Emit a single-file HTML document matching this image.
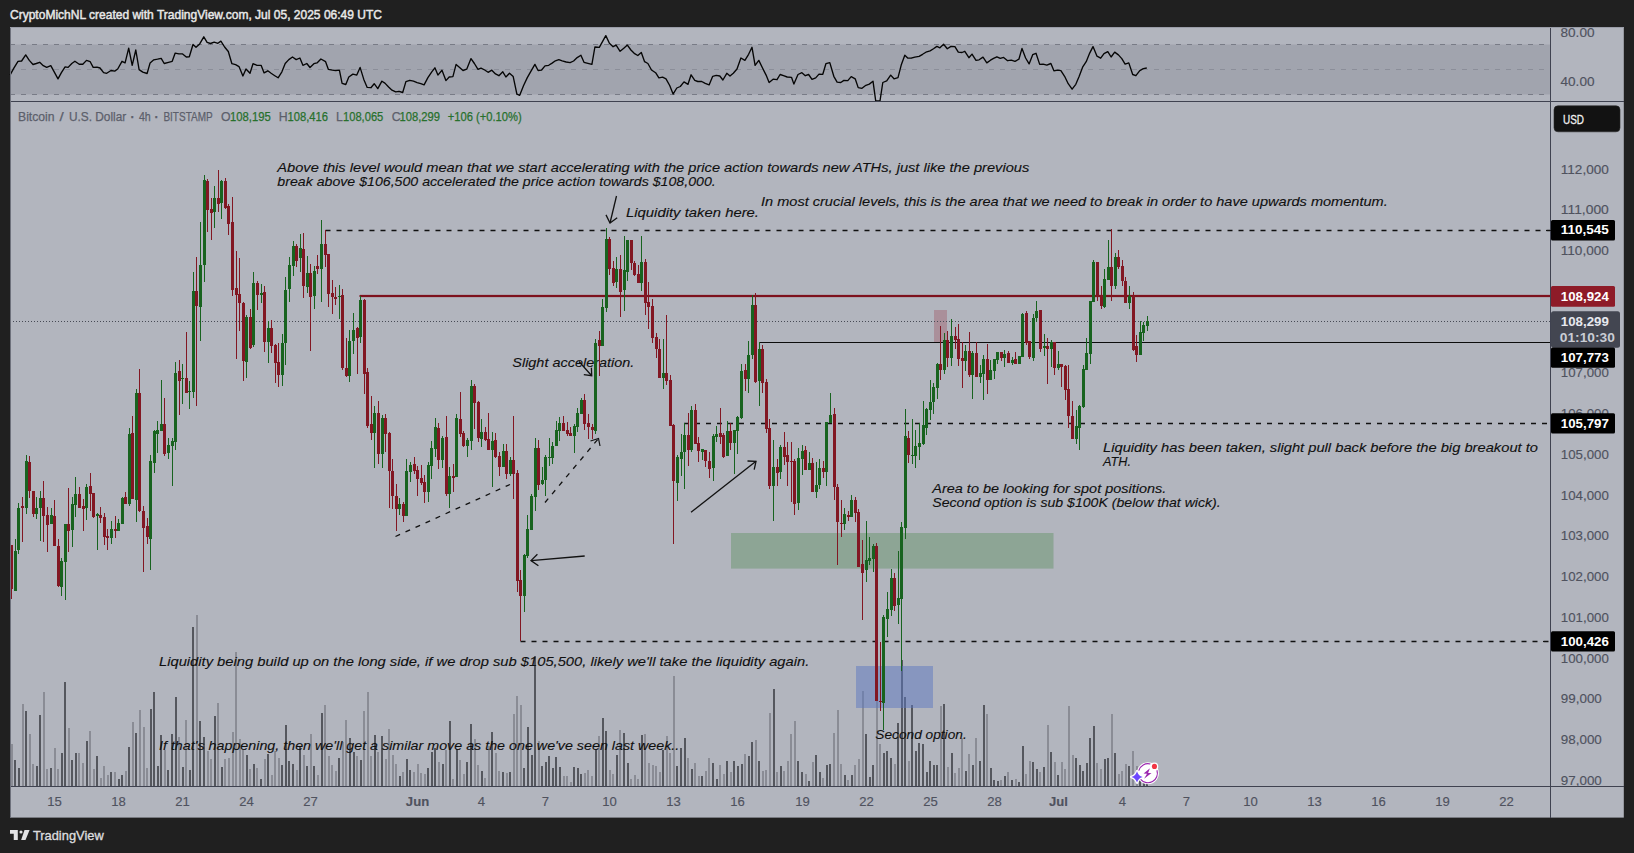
<!DOCTYPE html>
<html><head><meta charset="utf-8"><title>BTCUSD chart</title>
<style>
html,body{margin:0;padding:0;background:#202020;}
body{width:1634px;height:853px;overflow:hidden;position:relative;font-family:"Liberation Sans",sans-serif;}
svg{position:absolute;left:0;top:0;display:block}
text{font-family:"Liberation Sans",sans-serif;}
.ax{font-size:13.1px;fill:#4f525e;stroke:#4f525e;stroke-width:0.15px;}
.an{font-size:13.5px;font-style:italic;fill:#101010;stroke:#101010;stroke-width:0.12px;}
.lb{font-size:13.4px;font-weight:bold;fill:#fff;}
</style></head><body>
<svg width="1634" height="853" viewBox="0 0 1634 853">
<rect x="0" y="0" width="1634" height="853" fill="#202020"/>
<rect x="10" y="27" width="1613.8" height="790.6" fill="#b2b5be"/>
<text x="10" y="18.9" font-size="12.4" fill="#e8e8e8" stroke="#e8e8e8" stroke-width="0.45" textLength="372" lengthAdjust="spacingAndGlyphs">CryptoMichNL created with TradingView.com, Jul 05, 2025 06:49 UTC</text>
<rect x="11" y="44.5" width="1539" height="50" fill="#a1a4ae"/>
<line x1="10" y1="44.5" x2="1550" y2="44.5" stroke="#787b86" stroke-width="1" stroke-dasharray="5 6"/>
<line x1="10" y1="69.5" x2="1550" y2="69.5" stroke="#8b8e99" stroke-width="1" stroke-dasharray="5 6"/>
<line x1="10" y1="94.5" x2="1550" y2="94.5" stroke="#787b86" stroke-width="1" stroke-dasharray="5 6"/>
<polyline points="10.0,75.1 13.7,68.4 18.0,61.3 21.6,61.0 25.7,54.9 29.3,60.4 33.0,64.5 36.3,63.5 39.7,62.3 43.3,65.7 46.7,67.4 50.8,65.7 58.0,78.8 61.4,72.7 65.1,66.9 68.1,67.4 71.8,63.5 74.9,61.3 79.2,64.2 82.8,64.2 86.5,60.4 90.2,61.7 93.2,67.4 96.9,67.2 100.0,68.0 103.6,72.7 106.7,73.3 111.0,70.5 114.7,71.1 117.7,69.0 122.0,61.3 125.1,62.9 128.7,48.2 132.2,65.3 135.8,50.0 139.1,69.6 142.8,72.1 147.1,73.5 150.1,62.9 153.8,59.8 157.5,59.2 161.2,58.4 164.2,63.5 168.5,62.3 172.2,61.3 175.2,53.1 178.9,53.9 182.6,53.9 186.3,57.0 189.3,56.8 193.0,44.5 196.0,47.3 199.7,43.9 203.8,36.8 207.1,42.4 210.5,43.5 214.2,42.1 217.9,43.3 220.9,41.1 224.6,47.0 228.3,51.5 231.9,63.7 235.6,64.7 239.0,66.6 242.9,76.0 246.0,69.0 250.0,73.3 253.0,63.7 257.0,65.3 261.1,65.3 264.1,72.9 267.8,70.8 271.1,73.3 274.8,75.7 278.1,77.8 281.9,71.8 285.2,63.5 288.8,59.6 292.5,57.0 296.2,59.6 299.9,58.0 302.9,65.3 306.8,63.5 310.0,67.5 313.9,63.7 317.0,62.9 320.9,59.0 325.6,61.7 328.4,69.4 332.3,70.2 335.7,70.5 339.4,70.2 342.1,83.3 345.8,84.5 348.8,77.0 352.9,74.1 356.8,75.1 360.1,67.4 363.8,79.4 367.2,87.4 370.9,87.7 374.2,83.7 377.8,88.6 381.9,81.2 384.9,83.1 388.6,87.0 392.0,90.2 395.7,91.9 399.0,91.3 402.7,92.5 405.9,81.6 409.8,80.3 413.5,81.2 417.1,82.7 420.8,83.7 424.1,84.9 427.9,77.6 431.6,72.1 434.9,67.8 437.9,75.1 442.0,70.2 445.9,80.6 449.2,77.0 452.9,76.6 456.1,64.4 459.6,67.4 463.0,70.5 466.7,69.2 471.0,58.6 474.4,63.5 478.0,69.4 481.0,68.1 484.7,70.0 488.1,72.3 491.8,70.2 495.5,73.9 498.9,75.7 502.8,71.8 505.9,77.0 509.5,73.3 513.2,76.6 516.9,94.1 519.7,95.3 523.6,85.5 527.3,77.6 531.0,71.1 534.9,64.4 538.1,70.5 541.4,70.2 545.0,65.9 548.7,65.3 552.1,63.1 555.4,60.8 558.8,59.6 562.2,60.8 566.2,62.0 570.1,62.6 573.6,61.0 577.2,57.6 580.9,55.2 584.0,62.3 587.9,63.3 591.9,64.4 594.9,47.0 599.3,47.3 605.8,35.6 609.4,43.3 613.1,46.7 616.1,45.1 620.1,51.3 623.8,48.2 627.4,45.1 630.9,50.0 634.2,53.3 637.8,55.5 641.3,52.5 644.6,61.7 647.9,63.5 651.5,70.0 655.6,72.7 658.9,77.9 662.6,77.2 666.0,78.8 669.7,85.5 673.1,94.1 676.8,88.0 680.3,86.5 684.0,81.9 688.0,84.3 691.1,74.8 694.8,80.4 697.8,81.5 701.7,81.5 705.2,83.4 709.1,84.9 712.7,76.3 716.2,75.4 719.8,76.0 722.9,80.0 726.8,73.3 730.0,76.0 733.3,73.3 737.0,69.0 740.9,58.0 744.9,60.4 748.6,54.3 752.0,47.3 755.1,65.3 758.8,60.4 762.4,67.8 766.1,75.1 769.1,82.5 773.1,79.2 777.0,79.7 780.1,74.5 783.5,75.7 787.2,77.0 791.5,77.3 793.9,84.1 798.0,74.5 801.9,72.7 805.3,75.7 808.6,74.5 812.0,79.4 815.7,77.9 819.0,74.1 822.8,74.3 825.9,63.7 829.8,62.6 833.8,76.3 837.1,82.1 840.8,82.5 843.9,80.4 847.8,80.6 851.2,76.6 855.2,78.8 858.2,87.6 862.0,88.3 865.9,85.3 869.3,84.1 873.0,81.2 875.7,100.8 880.0,100.8 882.8,82.5 886.7,80.9 890.7,75.1 894.0,78.8 898.0,77.6 901.4,64.4 904.8,55.2 907.7,58.0 911.2,58.2 914.8,57.1 919.1,56.4 922.6,54.3 925.9,52.2 930.1,50.9 933.5,48.8 936.9,46.4 939.9,47.8 943.6,44.3 947.3,48.8 951.0,46.4 954.9,46.6 958.3,52.2 962.0,52.5 964.8,51.3 968.9,57.7 972.0,54.1 976.0,60.4 979.1,59.8 983.0,57.1 985.0,60.1 986.8,62.9 990.5,60.2 993.6,58.4 996.9,56.8 1000.3,58.4 1003.6,57.4 1007.6,60.7 1011.3,60.1 1015.0,61.3 1018.9,59.2 1022.0,48.4 1025.6,58.0 1029.1,63.9 1032.7,54.7 1036.0,53.3 1039.7,64.4 1043.1,64.1 1046.8,65.1 1050.9,63.5 1053.9,70.8 1057.8,70.2 1060.9,70.6 1064.6,76.3 1068.2,83.7 1072.1,89.2 1075.8,84.3 1079.2,76.3 1082.6,67.2 1086.2,61.7 1089.7,53.1 1093.0,46.6 1097.0,56.2 1100.7,58.2 1104.0,53.7 1107.8,51.6 1111.1,57.0 1114.7,52.1 1118.4,54.9 1121.8,58.6 1125.1,64.1 1128.8,62.9 1132.7,74.5 1135.9,75.7 1139.8,70.6 1143.3,68.6 1146.8,68.0" fill="none" stroke="#050505" stroke-width="1.35" stroke-linejoin="round"/>
<rect x="11" y="744" width="2" height="42" fill="#8a8c95"/>
<rect x="14" y="760" width="2" height="26" fill="#55575e"/>
<rect x="18" y="768" width="2" height="18" fill="#55575e"/>
<rect x="22" y="704" width="2" height="82" fill="#8a8c95"/>
<rect x="25" y="711" width="2" height="75" fill="#55575e"/>
<rect x="29" y="734" width="2" height="52" fill="#8a8c95"/>
<rect x="32" y="764" width="2" height="22" fill="#8a8c95"/>
<rect x="36" y="766" width="2" height="20" fill="#55575e"/>
<rect x="39" y="715" width="2" height="71" fill="#55575e"/>
<rect x="43" y="692" width="2" height="94" fill="#8a8c95"/>
<rect x="46" y="769" width="2" height="17" fill="#8a8c95"/>
<rect x="50" y="768" width="2" height="18" fill="#55575e"/>
<rect x="54" y="748" width="2" height="38" fill="#8a8c95"/>
<rect x="57" y="769" width="2" height="17" fill="#8a8c95"/>
<rect x="61" y="753" width="2" height="33" fill="#55575e"/>
<rect x="64" y="682" width="2" height="104" fill="#55575e"/>
<rect x="68" y="728" width="2" height="58" fill="#8a8c95"/>
<rect x="71" y="760" width="2" height="26" fill="#55575e"/>
<rect x="75" y="753" width="2" height="33" fill="#55575e"/>
<rect x="78" y="753" width="2" height="33" fill="#8a8c95"/>
<rect x="82" y="763" width="2" height="23" fill="#8a8c95"/>
<rect x="86" y="741" width="2" height="45" fill="#55575e"/>
<rect x="89" y="731" width="2" height="55" fill="#8a8c95"/>
<rect x="93" y="769" width="2" height="17" fill="#8a8c95"/>
<rect x="96" y="756" width="2" height="30" fill="#55575e"/>
<rect x="100" y="778" width="2" height="8" fill="#8a8c95"/>
<rect x="103" y="766" width="2" height="20" fill="#8a8c95"/>
<rect x="107" y="775" width="2" height="11" fill="#8a8c95"/>
<rect x="110" y="772" width="2" height="14" fill="#55575e"/>
<rect x="114" y="772" width="2" height="14" fill="#8a8c95"/>
<rect x="118" y="779" width="2" height="7" fill="#55575e"/>
<rect x="121" y="775" width="2" height="11" fill="#55575e"/>
<rect x="125" y="771" width="2" height="15" fill="#8a8c95"/>
<rect x="128" y="747" width="2" height="39" fill="#55575e"/>
<rect x="132" y="722" width="2" height="64" fill="#8a8c95"/>
<rect x="135" y="733" width="2" height="53" fill="#55575e"/>
<rect x="139" y="710" width="2" height="76" fill="#8a8c95"/>
<rect x="143" y="727" width="2" height="59" fill="#8a8c95"/>
<rect x="146" y="768" width="2" height="18" fill="#8a8c95"/>
<rect x="150" y="709" width="2" height="77" fill="#55575e"/>
<rect x="153" y="692" width="2" height="94" fill="#55575e"/>
<rect x="157" y="766" width="2" height="20" fill="#55575e"/>
<rect x="160" y="735" width="2" height="51" fill="#55575e"/>
<rect x="164" y="750" width="2" height="36" fill="#8a8c95"/>
<rect x="167" y="770" width="2" height="16" fill="#55575e"/>
<rect x="171" y="734" width="2" height="52" fill="#55575e"/>
<rect x="175" y="697" width="2" height="89" fill="#55575e"/>
<rect x="178" y="737" width="2" height="49" fill="#8a8c95"/>
<rect x="182" y="767" width="2" height="19" fill="#55575e"/>
<rect x="185" y="720" width="2" height="66" fill="#8a8c95"/>
<rect x="189" y="770" width="2" height="16" fill="#55575e"/>
<rect x="192" y="627" width="2" height="159" fill="#55575e"/>
<rect x="196" y="615" width="2" height="171" fill="#8a8c95"/>
<rect x="199" y="721" width="2" height="65" fill="#55575e"/>
<rect x="203" y="737" width="2" height="49" fill="#55575e"/>
<rect x="207" y="751" width="2" height="35" fill="#8a8c95"/>
<rect x="210" y="759" width="2" height="27" fill="#8a8c95"/>
<rect x="214" y="716" width="2" height="70" fill="#55575e"/>
<rect x="217" y="703" width="2" height="83" fill="#8a8c95"/>
<rect x="221" y="767" width="2" height="19" fill="#55575e"/>
<rect x="224" y="759" width="2" height="27" fill="#8a8c95"/>
<rect x="228" y="758" width="2" height="28" fill="#8a8c95"/>
<rect x="232" y="732" width="2" height="54" fill="#8a8c95"/>
<rect x="235" y="652" width="2" height="134" fill="#8a8c95"/>
<rect x="239" y="739" width="2" height="47" fill="#8a8c95"/>
<rect x="242" y="750" width="2" height="36" fill="#8a8c95"/>
<rect x="246" y="755" width="2" height="31" fill="#55575e"/>
<rect x="249" y="769" width="2" height="17" fill="#8a8c95"/>
<rect x="253" y="764" width="2" height="22" fill="#55575e"/>
<rect x="256" y="768" width="2" height="18" fill="#8a8c95"/>
<rect x="260" y="779" width="2" height="7" fill="#55575e"/>
<rect x="264" y="759" width="2" height="27" fill="#8a8c95"/>
<rect x="267" y="754" width="2" height="32" fill="#55575e"/>
<rect x="271" y="775" width="2" height="11" fill="#8a8c95"/>
<rect x="274" y="751" width="2" height="35" fill="#8a8c95"/>
<rect x="278" y="758" width="2" height="28" fill="#8a8c95"/>
<rect x="281" y="765" width="2" height="21" fill="#55575e"/>
<rect x="285" y="725" width="2" height="61" fill="#55575e"/>
<rect x="288" y="761" width="2" height="25" fill="#55575e"/>
<rect x="292" y="764" width="2" height="22" fill="#55575e"/>
<rect x="296" y="770" width="2" height="16" fill="#8a8c95"/>
<rect x="299" y="747" width="2" height="39" fill="#55575e"/>
<rect x="303" y="755" width="2" height="31" fill="#8a8c95"/>
<rect x="306" y="766" width="2" height="20" fill="#55575e"/>
<rect x="310" y="734" width="2" height="52" fill="#8a8c95"/>
<rect x="313" y="766" width="2" height="20" fill="#55575e"/>
<rect x="317" y="775" width="2" height="11" fill="#8a8c95"/>
<rect x="321" y="713" width="2" height="73" fill="#55575e"/>
<rect x="324" y="705" width="2" height="81" fill="#8a8c95"/>
<rect x="328" y="756" width="2" height="30" fill="#8a8c95"/>
<rect x="331" y="765" width="2" height="21" fill="#8a8c95"/>
<rect x="335" y="771" width="2" height="15" fill="#8a8c95"/>
<rect x="338" y="758" width="2" height="28" fill="#55575e"/>
<rect x="342" y="742" width="2" height="44" fill="#8a8c95"/>
<rect x="345" y="720" width="2" height="66" fill="#8a8c95"/>
<rect x="349" y="738" width="2" height="48" fill="#55575e"/>
<rect x="353" y="752" width="2" height="34" fill="#55575e"/>
<rect x="356" y="756" width="2" height="30" fill="#8a8c95"/>
<rect x="360" y="760" width="2" height="26" fill="#55575e"/>
<rect x="363" y="711" width="2" height="75" fill="#8a8c95"/>
<rect x="367" y="692" width="2" height="94" fill="#8a8c95"/>
<rect x="370" y="756" width="2" height="30" fill="#8a8c95"/>
<rect x="374" y="735" width="2" height="51" fill="#55575e"/>
<rect x="377" y="752" width="2" height="34" fill="#8a8c95"/>
<rect x="381" y="736" width="2" height="50" fill="#55575e"/>
<rect x="385" y="759" width="2" height="27" fill="#8a8c95"/>
<rect x="388" y="729" width="2" height="57" fill="#8a8c95"/>
<rect x="392" y="755" width="2" height="31" fill="#8a8c95"/>
<rect x="395" y="764" width="2" height="22" fill="#8a8c95"/>
<rect x="399" y="776" width="2" height="10" fill="#55575e"/>
<rect x="402" y="772" width="2" height="14" fill="#8a8c95"/>
<rect x="406" y="759" width="2" height="27" fill="#55575e"/>
<rect x="409" y="770" width="2" height="16" fill="#55575e"/>
<rect x="413" y="772" width="2" height="14" fill="#8a8c95"/>
<rect x="417" y="764" width="2" height="22" fill="#8a8c95"/>
<rect x="420" y="773" width="2" height="13" fill="#8a8c95"/>
<rect x="424" y="774" width="2" height="12" fill="#8a8c95"/>
<rect x="427" y="768" width="2" height="18" fill="#55575e"/>
<rect x="431" y="752" width="2" height="34" fill="#55575e"/>
<rect x="434" y="748" width="2" height="38" fill="#55575e"/>
<rect x="438" y="762" width="2" height="24" fill="#8a8c95"/>
<rect x="442" y="764" width="2" height="22" fill="#55575e"/>
<rect x="445" y="750" width="2" height="36" fill="#8a8c95"/>
<rect x="449" y="721" width="2" height="65" fill="#55575e"/>
<rect x="452" y="779" width="2" height="7" fill="#8a8c95"/>
<rect x="456" y="749" width="2" height="37" fill="#55575e"/>
<rect x="459" y="760" width="2" height="26" fill="#8a8c95"/>
<rect x="463" y="774" width="2" height="12" fill="#8a8c95"/>
<rect x="466" y="762" width="2" height="24" fill="#55575e"/>
<rect x="470" y="724" width="2" height="62" fill="#55575e"/>
<rect x="474" y="739" width="2" height="47" fill="#8a8c95"/>
<rect x="477" y="765" width="2" height="21" fill="#8a8c95"/>
<rect x="481" y="771" width="2" height="15" fill="#55575e"/>
<rect x="484" y="778" width="2" height="8" fill="#8a8c95"/>
<rect x="488" y="746" width="2" height="40" fill="#8a8c95"/>
<rect x="491" y="732" width="2" height="54" fill="#55575e"/>
<rect x="495" y="753" width="2" height="33" fill="#8a8c95"/>
<rect x="498" y="771" width="2" height="15" fill="#8a8c95"/>
<rect x="502" y="772" width="2" height="14" fill="#55575e"/>
<rect x="506" y="773" width="2" height="13" fill="#8a8c95"/>
<rect x="509" y="772" width="2" height="14" fill="#55575e"/>
<rect x="513" y="714" width="2" height="72" fill="#8a8c95"/>
<rect x="516" y="696" width="2" height="90" fill="#8a8c95"/>
<rect x="520" y="705" width="2" height="81" fill="#8a8c95"/>
<rect x="523" y="768" width="2" height="18" fill="#55575e"/>
<rect x="527" y="727" width="2" height="59" fill="#55575e"/>
<rect x="531" y="755" width="2" height="31" fill="#55575e"/>
<rect x="534" y="656" width="2" height="130" fill="#55575e"/>
<rect x="538" y="741" width="2" height="45" fill="#8a8c95"/>
<rect x="541" y="766" width="2" height="20" fill="#55575e"/>
<rect x="545" y="762" width="2" height="24" fill="#55575e"/>
<rect x="548" y="756" width="2" height="30" fill="#55575e"/>
<rect x="552" y="768" width="2" height="18" fill="#55575e"/>
<rect x="555" y="757" width="2" height="29" fill="#55575e"/>
<rect x="559" y="767" width="2" height="19" fill="#55575e"/>
<rect x="563" y="776" width="2" height="10" fill="#8a8c95"/>
<rect x="566" y="776" width="2" height="10" fill="#8a8c95"/>
<rect x="570" y="782" width="2" height="4" fill="#8a8c95"/>
<rect x="573" y="767" width="2" height="19" fill="#55575e"/>
<rect x="577" y="768" width="2" height="18" fill="#55575e"/>
<rect x="580" y="774" width="2" height="12" fill="#55575e"/>
<rect x="584" y="773" width="2" height="13" fill="#8a8c95"/>
<rect x="587" y="770" width="2" height="16" fill="#8a8c95"/>
<rect x="591" y="776" width="2" height="10" fill="#8a8c95"/>
<rect x="595" y="749" width="2" height="37" fill="#55575e"/>
<rect x="598" y="736" width="2" height="50" fill="#8a8c95"/>
<rect x="602" y="718" width="2" height="68" fill="#55575e"/>
<rect x="605" y="731" width="2" height="55" fill="#55575e"/>
<rect x="609" y="770" width="2" height="16" fill="#8a8c95"/>
<rect x="612" y="774" width="2" height="12" fill="#8a8c95"/>
<rect x="616" y="755" width="2" height="31" fill="#55575e"/>
<rect x="619" y="730" width="2" height="56" fill="#8a8c95"/>
<rect x="623" y="733" width="2" height="53" fill="#55575e"/>
<rect x="627" y="763" width="2" height="23" fill="#55575e"/>
<rect x="630" y="779" width="2" height="7" fill="#8a8c95"/>
<rect x="634" y="775" width="2" height="11" fill="#8a8c95"/>
<rect x="637" y="779" width="2" height="7" fill="#8a8c95"/>
<rect x="641" y="735" width="2" height="51" fill="#55575e"/>
<rect x="644" y="734" width="2" height="52" fill="#8a8c95"/>
<rect x="648" y="763" width="2" height="23" fill="#8a8c95"/>
<rect x="652" y="765" width="2" height="21" fill="#8a8c95"/>
<rect x="655" y="766" width="2" height="20" fill="#8a8c95"/>
<rect x="659" y="772" width="2" height="14" fill="#8a8c95"/>
<rect x="662" y="750" width="2" height="36" fill="#55575e"/>
<rect x="666" y="736" width="2" height="50" fill="#8a8c95"/>
<rect x="669" y="753" width="2" height="33" fill="#8a8c95"/>
<rect x="673" y="676" width="2" height="110" fill="#8a8c95"/>
<rect x="676" y="766" width="2" height="20" fill="#55575e"/>
<rect x="680" y="748" width="2" height="38" fill="#55575e"/>
<rect x="684" y="738" width="2" height="48" fill="#55575e"/>
<rect x="687" y="758" width="2" height="28" fill="#8a8c95"/>
<rect x="691" y="769" width="2" height="17" fill="#55575e"/>
<rect x="694" y="763" width="2" height="23" fill="#8a8c95"/>
<rect x="698" y="776" width="2" height="10" fill="#8a8c95"/>
<rect x="701" y="776" width="2" height="10" fill="#55575e"/>
<rect x="705" y="771" width="2" height="15" fill="#8a8c95"/>
<rect x="708" y="758" width="2" height="28" fill="#8a8c95"/>
<rect x="712" y="763" width="2" height="23" fill="#55575e"/>
<rect x="716" y="779" width="2" height="7" fill="#55575e"/>
<rect x="719" y="765" width="2" height="21" fill="#8a8c95"/>
<rect x="723" y="774" width="2" height="12" fill="#8a8c95"/>
<rect x="726" y="761" width="2" height="25" fill="#55575e"/>
<rect x="730" y="772" width="2" height="14" fill="#8a8c95"/>
<rect x="733" y="761" width="2" height="25" fill="#55575e"/>
<rect x="737" y="766" width="2" height="20" fill="#55575e"/>
<rect x="741" y="764" width="2" height="22" fill="#55575e"/>
<rect x="744" y="754" width="2" height="32" fill="#8a8c95"/>
<rect x="748" y="756" width="2" height="30" fill="#55575e"/>
<rect x="751" y="742" width="2" height="44" fill="#55575e"/>
<rect x="755" y="740" width="2" height="46" fill="#8a8c95"/>
<rect x="758" y="761" width="2" height="25" fill="#55575e"/>
<rect x="762" y="771" width="2" height="15" fill="#8a8c95"/>
<rect x="765" y="770" width="2" height="16" fill="#8a8c95"/>
<rect x="769" y="713" width="2" height="73" fill="#8a8c95"/>
<rect x="773" y="689" width="2" height="97" fill="#55575e"/>
<rect x="776" y="772" width="2" height="14" fill="#8a8c95"/>
<rect x="780" y="766" width="2" height="20" fill="#55575e"/>
<rect x="783" y="771" width="2" height="15" fill="#8a8c95"/>
<rect x="787" y="761" width="2" height="25" fill="#8a8c95"/>
<rect x="790" y="734" width="2" height="52" fill="#8a8c95"/>
<rect x="794" y="721" width="2" height="65" fill="#8a8c95"/>
<rect x="797" y="761" width="2" height="25" fill="#55575e"/>
<rect x="801" y="772" width="2" height="14" fill="#55575e"/>
<rect x="805" y="774" width="2" height="12" fill="#8a8c95"/>
<rect x="808" y="781" width="2" height="5" fill="#55575e"/>
<rect x="812" y="762" width="2" height="24" fill="#8a8c95"/>
<rect x="815" y="755" width="2" height="31" fill="#55575e"/>
<rect x="819" y="772" width="2" height="14" fill="#55575e"/>
<rect x="822" y="778" width="2" height="8" fill="#8a8c95"/>
<rect x="826" y="765" width="2" height="21" fill="#55575e"/>
<rect x="829" y="764" width="2" height="22" fill="#55575e"/>
<rect x="833" y="733" width="2" height="53" fill="#8a8c95"/>
<rect x="837" y="710" width="2" height="76" fill="#8a8c95"/>
<rect x="840" y="764" width="2" height="22" fill="#8a8c95"/>
<rect x="844" y="775" width="2" height="11" fill="#55575e"/>
<rect x="847" y="780" width="2" height="6" fill="#8a8c95"/>
<rect x="851" y="775" width="2" height="11" fill="#55575e"/>
<rect x="854" y="765" width="2" height="21" fill="#8a8c95"/>
<rect x="858" y="759" width="2" height="27" fill="#8a8c95"/>
<rect x="862" y="691" width="2" height="95" fill="#8a8c95"/>
<rect x="865" y="734" width="2" height="52" fill="#55575e"/>
<rect x="869" y="777" width="2" height="9" fill="#55575e"/>
<rect x="872" y="765" width="2" height="21" fill="#55575e"/>
<rect x="876" y="662" width="2" height="124" fill="#8a8c95"/>
<rect x="879" y="744" width="2" height="42" fill="#8a8c95"/>
<rect x="883" y="753" width="2" height="33" fill="#55575e"/>
<rect x="886" y="751" width="2" height="35" fill="#55575e"/>
<rect x="890" y="758" width="2" height="28" fill="#55575e"/>
<rect x="894" y="764" width="2" height="22" fill="#8a8c95"/>
<rect x="897" y="723" width="2" height="63" fill="#55575e"/>
<rect x="901" y="660" width="2" height="126" fill="#55575e"/>
<rect x="904" y="697" width="2" height="89" fill="#55575e"/>
<rect x="908" y="761" width="2" height="25" fill="#8a8c95"/>
<rect x="911" y="705" width="2" height="81" fill="#55575e"/>
<rect x="915" y="751" width="2" height="35" fill="#55575e"/>
<rect x="918" y="743" width="2" height="43" fill="#55575e"/>
<rect x="922" y="744" width="2" height="42" fill="#55575e"/>
<rect x="926" y="772" width="2" height="14" fill="#55575e"/>
<rect x="929" y="761" width="2" height="25" fill="#55575e"/>
<rect x="933" y="765" width="2" height="21" fill="#55575e"/>
<rect x="936" y="765" width="2" height="21" fill="#55575e"/>
<rect x="940" y="706" width="2" height="80" fill="#8a8c95"/>
<rect x="943" y="704" width="2" height="82" fill="#55575e"/>
<rect x="947" y="767" width="2" height="19" fill="#8a8c95"/>
<rect x="951" y="753" width="2" height="33" fill="#55575e"/>
<rect x="954" y="773" width="2" height="13" fill="#8a8c95"/>
<rect x="958" y="768" width="2" height="18" fill="#8a8c95"/>
<rect x="961" y="738" width="2" height="48" fill="#8a8c95"/>
<rect x="965" y="771" width="2" height="15" fill="#55575e"/>
<rect x="968" y="754" width="2" height="32" fill="#8a8c95"/>
<rect x="972" y="765" width="2" height="21" fill="#55575e"/>
<rect x="975" y="738" width="2" height="48" fill="#8a8c95"/>
<rect x="979" y="761" width="2" height="25" fill="#55575e"/>
<rect x="983" y="705" width="2" height="81" fill="#55575e"/>
<rect x="986" y="714" width="2" height="72" fill="#8a8c95"/>
<rect x="990" y="768" width="2" height="18" fill="#55575e"/>
<rect x="993" y="780" width="2" height="6" fill="#55575e"/>
<rect x="997" y="781" width="2" height="5" fill="#55575e"/>
<rect x="1000" y="780" width="2" height="6" fill="#8a8c95"/>
<rect x="1004" y="776" width="2" height="10" fill="#55575e"/>
<rect x="1007" y="772" width="2" height="14" fill="#8a8c95"/>
<rect x="1011" y="780" width="2" height="6" fill="#55575e"/>
<rect x="1015" y="779" width="2" height="7" fill="#8a8c95"/>
<rect x="1018" y="782" width="2" height="4" fill="#55575e"/>
<rect x="1022" y="746" width="2" height="40" fill="#55575e"/>
<rect x="1025" y="774" width="2" height="12" fill="#8a8c95"/>
<rect x="1029" y="761" width="2" height="25" fill="#8a8c95"/>
<rect x="1032" y="762" width="2" height="24" fill="#55575e"/>
<rect x="1036" y="769" width="2" height="17" fill="#55575e"/>
<rect x="1039" y="772" width="2" height="14" fill="#8a8c95"/>
<rect x="1043" y="767" width="2" height="19" fill="#55575e"/>
<rect x="1047" y="725" width="2" height="61" fill="#8a8c95"/>
<rect x="1050" y="752" width="2" height="34" fill="#55575e"/>
<rect x="1054" y="762" width="2" height="24" fill="#8a8c95"/>
<rect x="1057" y="775" width="2" height="11" fill="#55575e"/>
<rect x="1061" y="762" width="2" height="24" fill="#8a8c95"/>
<rect x="1064" y="769" width="2" height="17" fill="#8a8c95"/>
<rect x="1068" y="706" width="2" height="80" fill="#8a8c95"/>
<rect x="1072" y="755" width="2" height="31" fill="#8a8c95"/>
<rect x="1075" y="758" width="2" height="28" fill="#55575e"/>
<rect x="1079" y="765" width="2" height="21" fill="#55575e"/>
<rect x="1082" y="771" width="2" height="15" fill="#55575e"/>
<rect x="1086" y="763" width="2" height="23" fill="#55575e"/>
<rect x="1089" y="738" width="2" height="48" fill="#55575e"/>
<rect x="1093" y="726" width="2" height="60" fill="#55575e"/>
<rect x="1096" y="763" width="2" height="23" fill="#8a8c95"/>
<rect x="1100" y="769" width="2" height="17" fill="#8a8c95"/>
<rect x="1104" y="759" width="2" height="27" fill="#55575e"/>
<rect x="1107" y="758" width="2" height="28" fill="#55575e"/>
<rect x="1111" y="714" width="2" height="72" fill="#8a8c95"/>
<rect x="1114" y="753" width="2" height="33" fill="#55575e"/>
<rect x="1118" y="774" width="2" height="12" fill="#8a8c95"/>
<rect x="1121" y="771" width="2" height="15" fill="#8a8c95"/>
<rect x="1125" y="764" width="2" height="22" fill="#8a8c95"/>
<rect x="1128" y="766" width="2" height="20" fill="#55575e"/>
<rect x="1132" y="751" width="2" height="35" fill="#8a8c95"/>
<rect x="1136" y="766" width="2" height="20" fill="#8a8c95"/>
<rect x="1139" y="770" width="2" height="16" fill="#55575e"/>
<rect x="1143" y="773" width="2" height="13" fill="#55575e"/>
<rect x="1146" y="775" width="2" height="11" fill="#55575e"/>
<rect x="731" y="533" width="322.5" height="35.6" fill="#6f9873" fill-opacity="0.55"/>
<rect x="856" y="666" width="77" height="42" fill="#5b78c0" fill-opacity="0.5"/>
<rect x="934" y="310" width="13" height="32" fill="#aa8f9a"/>
<rect x="359.5" y="295" width="1190.5" height="2" fill="#7d121d"/>
<rect x="360" y="294.6" width="1190" height="2.8" fill="#7d121d" fill-opacity="0.3"/>
<line x1="759" y1="342.5" x2="1550" y2="342.5" stroke="#0c0c0c" stroke-width="1.15"/>
<line x1="325.5" y1="230.5" x2="1550" y2="230.5" stroke="#111" stroke-width="1.3" stroke-dasharray="5 6" fill="none"/>
<line x1="684" y1="423.5" x2="1550" y2="423.5" stroke="#111" stroke-width="1.3" stroke-dasharray="5 6" fill="none"/>
<line x1="520.5" y1="641.5" x2="1550" y2="641.5" stroke="#111" stroke-width="1.3" stroke-dasharray="5 6" fill="none"/>
<line x1="395.5" y1="536.5" x2="510" y2="484.5" stroke="#111" stroke-width="1.3" stroke-dasharray="5 6" fill="none"/>
<line x1="545" y1="502.5" x2="598.5" y2="438.5" stroke="#111" stroke-width="1.3" stroke-dasharray="5 6" fill="none"/>
<polyline points="590.5,441 598.5,438.5 600,446" fill="none" stroke="#111" stroke-width="1.2"/>
<line x1="616.5" y1="196" x2="610" y2="223" stroke="#111" stroke-width="1.3"/>
<polyline points="606.0,214.9 610,223 617.2,217.7" fill="none" stroke="#111" stroke-width="1.3"/>
<line x1="579" y1="361.5" x2="591.7" y2="375.7" stroke="#111" stroke-width="1.3"/>
<polyline points="583.8,374.6 591.7,375.7 591.4,367.7" fill="none" stroke="#111" stroke-width="1.3"/>
<line x1="584.7" y1="556" x2="531" y2="560.6" stroke="#111" stroke-width="1.3"/>
<polyline points="537.4,554.2 531,560.6 538.4,565.8" fill="none" stroke="#111" stroke-width="1.3"/>
<line x1="691" y1="512.3" x2="756" y2="461.3" stroke="#111" stroke-width="1.3"/>
<polyline points="754.2,469.6 756,461.3 747.5,461.0" fill="none" stroke="#111" stroke-width="1.3"/>
<text class="an" x="277.3" y="171.7" textLength="752.0" lengthAdjust="spacingAndGlyphs">Above this level would mean that we start accelerating with the price action towards new ATHs, just like the previous</text>
<text class="an" x="277.3" y="185.7" textLength="438.4" lengthAdjust="spacingAndGlyphs">break above $106,500 accelerated the price action towards $108,000.</text>
<text class="an" x="626" y="217.3" textLength="133.0" lengthAdjust="spacingAndGlyphs">Liquidity taken here.</text>
<text class="an" x="761" y="206" textLength="626.7" lengthAdjust="spacingAndGlyphs">In most crucial levels, this is the area that we need to break in order to have upwards momentum.</text>
<text class="an" x="512.3" y="367" textLength="122.0" lengthAdjust="spacingAndGlyphs">Slight acceleration.</text>
<text class="an" x="1103" y="451.7" textLength="435.0" lengthAdjust="spacingAndGlyphs">Liquidity has been taken, slight pull back before the big breakout to</text>
<text class="an" x="1103" y="465.7" textLength="28.0" lengthAdjust="spacingAndGlyphs">ATH.</text>
<text class="an" x="932.3" y="492.7" textLength="234.0" lengthAdjust="spacingAndGlyphs">Area to be looking for spot positions.</text>
<text class="an" x="932.3" y="506.7" textLength="288.4" lengthAdjust="spacingAndGlyphs">Second option is sub $100K (below that wick).</text>
<text class="an" x="159" y="665.7" textLength="650.3" lengthAdjust="spacingAndGlyphs">Liquidity being build up on the long side, if we drop sub $105,500, likely we&#39;ll take the liquidity again.</text>
<text class="an" x="159" y="749.7" textLength="520.3" lengthAdjust="spacingAndGlyphs">If that&#39;s happening, then we&#39;ll get a similar move as the one we&#39;ve seen last week..</text>
<text class="an" x="875.3" y="739" textLength="91.4" lengthAdjust="spacingAndGlyphs">Second option.</text>
<line x1="10" y1="321.5" x2="1550" y2="321.5" stroke="#474a55" stroke-width="1" stroke-dasharray="1 2"/>
<rect x="11" y="545" width="1" height="54" fill="#821723"/>
<rect x="10" y="545" width="3" height="44" fill="#821723"/>
<rect x="15" y="539" width="1" height="52" fill="#18631f"/>
<rect x="14" y="551" width="3" height="40" fill="#18631f"/>
<rect x="18" y="503" width="1" height="51" fill="#18631f"/>
<rect x="17" y="508" width="3" height="42" fill="#18631f"/>
<rect x="22" y="497" width="1" height="45" fill="#821723"/>
<rect x="21" y="506" width="3" height="2" fill="#821723"/>
<rect x="26" y="455" width="1" height="59" fill="#18631f"/>
<rect x="25" y="461" width="3" height="47" fill="#18631f"/>
<rect x="29" y="456" width="1" height="42" fill="#821723"/>
<rect x="28" y="462" width="3" height="29" fill="#821723"/>
<rect x="33" y="491" width="1" height="26" fill="#821723"/>
<rect x="32" y="491" width="3" height="23" fill="#821723"/>
<rect x="36" y="497" width="1" height="22" fill="#18631f"/>
<rect x="35" y="508" width="3" height="6" fill="#18631f"/>
<rect x="40" y="491" width="1" height="50" fill="#18631f"/>
<rect x="39" y="498" width="3" height="10" fill="#18631f"/>
<rect x="43" y="481" width="1" height="61" fill="#821723"/>
<rect x="42" y="498" width="3" height="18" fill="#821723"/>
<rect x="47" y="507" width="1" height="45" fill="#821723"/>
<rect x="46" y="515" width="3" height="10" fill="#821723"/>
<rect x="51" y="508" width="1" height="16" fill="#18631f"/>
<rect x="50" y="515" width="3" height="9" fill="#18631f"/>
<rect x="54" y="500" width="1" height="46" fill="#821723"/>
<rect x="53" y="516" width="3" height="30" fill="#821723"/>
<rect x="58" y="539" width="1" height="48" fill="#821723"/>
<rect x="57" y="546" width="3" height="40" fill="#821723"/>
<rect x="61" y="558" width="1" height="38" fill="#18631f"/>
<rect x="60" y="561" width="3" height="26" fill="#18631f"/>
<rect x="65" y="524" width="1" height="76" fill="#18631f"/>
<rect x="64" y="524" width="3" height="38" fill="#18631f"/>
<rect x="68" y="488" width="1" height="64" fill="#821723"/>
<rect x="67" y="524" width="3" height="7" fill="#821723"/>
<rect x="72" y="497" width="1" height="50" fill="#18631f"/>
<rect x="71" y="504" width="3" height="26" fill="#18631f"/>
<rect x="75" y="477" width="1" height="40" fill="#18631f"/>
<rect x="74" y="494" width="3" height="11" fill="#18631f"/>
<rect x="79" y="487" width="1" height="21" fill="#821723"/>
<rect x="78" y="494" width="3" height="14" fill="#821723"/>
<rect x="83" y="499" width="1" height="32" fill="#821723"/>
<rect x="82" y="506" width="3" height="3" fill="#821723"/>
<rect x="86" y="484" width="1" height="36" fill="#18631f"/>
<rect x="85" y="487" width="3" height="21" fill="#18631f"/>
<rect x="90" y="473" width="1" height="38" fill="#821723"/>
<rect x="89" y="486" width="3" height="8" fill="#821723"/>
<rect x="93" y="493" width="1" height="25" fill="#821723"/>
<rect x="92" y="493" width="3" height="24" fill="#821723"/>
<rect x="97" y="513" width="1" height="37" fill="#18631f"/>
<rect x="96" y="514" width="3" height="2" fill="#18631f"/>
<rect x="100" y="507" width="1" height="16" fill="#821723"/>
<rect x="99" y="515" width="3" height="3" fill="#821723"/>
<rect x="104" y="513" width="1" height="32" fill="#821723"/>
<rect x="103" y="517" width="3" height="20" fill="#821723"/>
<rect x="107" y="529" width="1" height="21" fill="#821723"/>
<rect x="106" y="536" width="3" height="2" fill="#821723"/>
<rect x="111" y="521" width="1" height="23" fill="#18631f"/>
<rect x="110" y="529" width="3" height="9" fill="#18631f"/>
<rect x="115" y="516" width="1" height="22" fill="#821723"/>
<rect x="114" y="529" width="3" height="2" fill="#821723"/>
<rect x="118" y="519" width="1" height="12" fill="#18631f"/>
<rect x="117" y="523" width="3" height="8" fill="#18631f"/>
<rect x="122" y="497" width="1" height="27" fill="#18631f"/>
<rect x="121" y="498" width="3" height="26" fill="#18631f"/>
<rect x="125" y="492" width="1" height="12" fill="#821723"/>
<rect x="124" y="497" width="3" height="7" fill="#821723"/>
<rect x="129" y="428" width="1" height="78" fill="#18631f"/>
<rect x="128" y="434" width="3" height="70" fill="#18631f"/>
<rect x="132" y="416" width="1" height="83" fill="#821723"/>
<rect x="131" y="433" width="3" height="66" fill="#821723"/>
<rect x="136" y="389" width="1" height="133" fill="#18631f"/>
<rect x="135" y="393" width="3" height="107" fill="#18631f"/>
<rect x="139" y="369" width="1" height="143" fill="#821723"/>
<rect x="138" y="393" width="3" height="118" fill="#821723"/>
<rect x="143" y="506" width="1" height="66" fill="#821723"/>
<rect x="142" y="511" width="3" height="17" fill="#821723"/>
<rect x="147" y="518" width="1" height="26" fill="#821723"/>
<rect x="146" y="526" width="3" height="11" fill="#821723"/>
<rect x="150" y="455" width="1" height="115" fill="#18631f"/>
<rect x="149" y="461" width="3" height="78" fill="#18631f"/>
<rect x="154" y="430" width="1" height="43" fill="#18631f"/>
<rect x="153" y="431" width="3" height="32" fill="#18631f"/>
<rect x="157" y="421" width="1" height="32" fill="#18631f"/>
<rect x="156" y="430" width="3" height="4" fill="#18631f"/>
<rect x="161" y="380" width="1" height="51" fill="#18631f"/>
<rect x="160" y="424" width="3" height="7" fill="#18631f"/>
<rect x="164" y="398" width="1" height="58" fill="#821723"/>
<rect x="163" y="424" width="3" height="30" fill="#821723"/>
<rect x="168" y="438" width="1" height="21" fill="#18631f"/>
<rect x="167" y="445" width="3" height="8" fill="#18631f"/>
<rect x="172" y="438" width="1" height="48" fill="#18631f"/>
<rect x="171" y="441" width="3" height="5" fill="#18631f"/>
<rect x="175" y="362" width="1" height="88" fill="#18631f"/>
<rect x="174" y="373" width="3" height="69" fill="#18631f"/>
<rect x="179" y="360" width="1" height="55" fill="#821723"/>
<rect x="178" y="371" width="3" height="10" fill="#821723"/>
<rect x="182" y="364" width="1" height="40" fill="#18631f"/>
<rect x="181" y="378" width="3" height="1" fill="#18631f"/>
<rect x="186" y="332" width="1" height="61" fill="#821723"/>
<rect x="185" y="378" width="3" height="15" fill="#821723"/>
<rect x="189" y="381" width="1" height="28" fill="#18631f"/>
<rect x="188" y="391" width="3" height="1" fill="#18631f"/>
<rect x="193" y="272" width="1" height="126" fill="#18631f"/>
<rect x="192" y="291" width="3" height="101" fill="#18631f"/>
<rect x="196" y="257" width="1" height="149" fill="#821723"/>
<rect x="195" y="291" width="3" height="15" fill="#821723"/>
<rect x="200" y="222" width="1" height="119" fill="#18631f"/>
<rect x="199" y="265" width="3" height="42" fill="#18631f"/>
<rect x="204" y="175" width="1" height="107" fill="#18631f"/>
<rect x="203" y="180" width="3" height="85" fill="#18631f"/>
<rect x="207" y="179" width="1" height="53" fill="#821723"/>
<rect x="206" y="181" width="3" height="29" fill="#821723"/>
<rect x="211" y="198" width="1" height="42" fill="#821723"/>
<rect x="210" y="209" width="3" height="4" fill="#821723"/>
<rect x="214" y="186" width="1" height="42" fill="#18631f"/>
<rect x="213" y="198" width="3" height="14" fill="#18631f"/>
<rect x="218" y="170" width="1" height="42" fill="#821723"/>
<rect x="217" y="198" width="3" height="6" fill="#821723"/>
<rect x="221" y="180" width="1" height="39" fill="#18631f"/>
<rect x="220" y="181" width="3" height="22" fill="#18631f"/>
<rect x="225" y="178" width="1" height="31" fill="#821723"/>
<rect x="224" y="181" width="3" height="27" fill="#821723"/>
<rect x="228" y="204" width="1" height="31" fill="#821723"/>
<rect x="227" y="206" width="3" height="18" fill="#821723"/>
<rect x="232" y="197" width="1" height="99" fill="#821723"/>
<rect x="231" y="222" width="3" height="68" fill="#821723"/>
<rect x="236" y="251" width="1" height="108" fill="#821723"/>
<rect x="235" y="288" width="3" height="7" fill="#821723"/>
<rect x="239" y="258" width="1" height="73" fill="#821723"/>
<rect x="238" y="294" width="3" height="9" fill="#821723"/>
<rect x="243" y="302" width="1" height="79" fill="#821723"/>
<rect x="242" y="303" width="3" height="58" fill="#821723"/>
<rect x="246" y="315" width="1" height="63" fill="#18631f"/>
<rect x="245" y="317" width="3" height="45" fill="#18631f"/>
<rect x="250" y="309" width="1" height="40" fill="#821723"/>
<rect x="249" y="317" width="3" height="31" fill="#821723"/>
<rect x="253" y="272" width="1" height="75" fill="#18631f"/>
<rect x="252" y="283" width="3" height="62" fill="#18631f"/>
<rect x="257" y="281" width="1" height="29" fill="#821723"/>
<rect x="256" y="283" width="3" height="12" fill="#821723"/>
<rect x="261" y="284" width="1" height="19" fill="#18631f"/>
<rect x="260" y="293" width="3" height="2" fill="#18631f"/>
<rect x="264" y="286" width="1" height="66" fill="#821723"/>
<rect x="263" y="292" width="3" height="50" fill="#821723"/>
<rect x="268" y="321" width="1" height="42" fill="#18631f"/>
<rect x="267" y="328" width="3" height="14" fill="#18631f"/>
<rect x="271" y="320" width="1" height="33" fill="#821723"/>
<rect x="270" y="328" width="3" height="18" fill="#821723"/>
<rect x="275" y="344" width="1" height="39" fill="#821723"/>
<rect x="274" y="345" width="3" height="18" fill="#821723"/>
<rect x="278" y="343" width="1" height="44" fill="#821723"/>
<rect x="277" y="362" width="3" height="13" fill="#821723"/>
<rect x="282" y="334" width="1" height="52" fill="#18631f"/>
<rect x="281" y="343" width="3" height="32" fill="#18631f"/>
<rect x="285" y="277" width="1" height="88" fill="#18631f"/>
<rect x="284" y="290" width="3" height="53" fill="#18631f"/>
<rect x="289" y="257" width="1" height="45" fill="#18631f"/>
<rect x="288" y="265" width="3" height="24" fill="#18631f"/>
<rect x="293" y="241" width="1" height="35" fill="#18631f"/>
<rect x="292" y="246" width="3" height="20" fill="#18631f"/>
<rect x="296" y="244" width="1" height="23" fill="#821723"/>
<rect x="295" y="246" width="3" height="15" fill="#821723"/>
<rect x="300" y="234" width="1" height="38" fill="#18631f"/>
<rect x="299" y="248" width="3" height="10" fill="#18631f"/>
<rect x="303" y="233" width="1" height="65" fill="#821723"/>
<rect x="302" y="249" width="3" height="37" fill="#821723"/>
<rect x="307" y="256" width="1" height="37" fill="#18631f"/>
<rect x="306" y="273" width="3" height="14" fill="#18631f"/>
<rect x="310" y="264" width="1" height="87" fill="#821723"/>
<rect x="309" y="273" width="3" height="24" fill="#821723"/>
<rect x="314" y="266" width="1" height="43" fill="#18631f"/>
<rect x="313" y="271" width="3" height="25" fill="#18631f"/>
<rect x="317" y="255" width="1" height="19" fill="#821723"/>
<rect x="316" y="266" width="3" height="3" fill="#821723"/>
<rect x="321" y="220" width="1" height="82" fill="#18631f"/>
<rect x="320" y="244" width="3" height="25" fill="#18631f"/>
<rect x="325" y="230" width="1" height="37" fill="#821723"/>
<rect x="324" y="244" width="3" height="11" fill="#821723"/>
<rect x="328" y="254" width="1" height="53" fill="#821723"/>
<rect x="327" y="254" width="3" height="40" fill="#821723"/>
<rect x="332" y="280" width="1" height="34" fill="#821723"/>
<rect x="331" y="293" width="3" height="4" fill="#821723"/>
<rect x="335" y="287" width="1" height="18" fill="#821723"/>
<rect x="334" y="297" width="3" height="2" fill="#821723"/>
<rect x="339" y="285" width="1" height="34" fill="#18631f"/>
<rect x="338" y="296" width="3" height="1" fill="#18631f"/>
<rect x="342" y="289" width="1" height="81" fill="#821723"/>
<rect x="341" y="295" width="3" height="73" fill="#821723"/>
<rect x="346" y="338" width="1" height="39" fill="#821723"/>
<rect x="345" y="368" width="3" height="8" fill="#821723"/>
<rect x="349" y="330" width="1" height="52" fill="#18631f"/>
<rect x="348" y="341" width="3" height="35" fill="#18631f"/>
<rect x="353" y="313" width="1" height="41" fill="#18631f"/>
<rect x="352" y="330" width="3" height="11" fill="#18631f"/>
<rect x="357" y="327" width="1" height="47" fill="#821723"/>
<rect x="356" y="328" width="3" height="10" fill="#821723"/>
<rect x="360" y="296" width="1" height="47" fill="#18631f"/>
<rect x="359" y="300" width="3" height="37" fill="#18631f"/>
<rect x="364" y="299" width="1" height="95" fill="#821723"/>
<rect x="363" y="300" width="3" height="74" fill="#821723"/>
<rect x="367" y="368" width="1" height="60" fill="#821723"/>
<rect x="366" y="372" width="3" height="54" fill="#821723"/>
<rect x="371" y="396" width="1" height="44" fill="#821723"/>
<rect x="370" y="424" width="3" height="9" fill="#821723"/>
<rect x="374" y="406" width="1" height="62" fill="#18631f"/>
<rect x="373" y="413" width="3" height="20" fill="#18631f"/>
<rect x="378" y="401" width="1" height="63" fill="#821723"/>
<rect x="377" y="413" width="3" height="41" fill="#821723"/>
<rect x="382" y="415" width="1" height="53" fill="#18631f"/>
<rect x="381" y="418" width="3" height="36" fill="#18631f"/>
<rect x="385" y="414" width="1" height="38" fill="#821723"/>
<rect x="384" y="418" width="3" height="16" fill="#821723"/>
<rect x="389" y="432" width="1" height="76" fill="#821723"/>
<rect x="388" y="433" width="3" height="38" fill="#821723"/>
<rect x="392" y="459" width="1" height="50" fill="#821723"/>
<rect x="391" y="471" width="3" height="25" fill="#821723"/>
<rect x="396" y="484" width="1" height="47" fill="#821723"/>
<rect x="395" y="496" width="3" height="13" fill="#821723"/>
<rect x="399" y="498" width="1" height="17" fill="#18631f"/>
<rect x="398" y="504" width="3" height="5" fill="#18631f"/>
<rect x="403" y="502" width="1" height="20" fill="#821723"/>
<rect x="402" y="504" width="3" height="12" fill="#821723"/>
<rect x="406" y="459" width="1" height="57" fill="#18631f"/>
<rect x="405" y="471" width="3" height="45" fill="#18631f"/>
<rect x="410" y="462" width="1" height="20" fill="#18631f"/>
<rect x="409" y="465" width="3" height="7" fill="#18631f"/>
<rect x="414" y="457" width="1" height="17" fill="#821723"/>
<rect x="413" y="464" width="3" height="7" fill="#821723"/>
<rect x="417" y="466" width="1" height="30" fill="#821723"/>
<rect x="416" y="470" width="3" height="9" fill="#821723"/>
<rect x="421" y="465" width="1" height="20" fill="#821723"/>
<rect x="420" y="478" width="3" height="5" fill="#821723"/>
<rect x="424" y="475" width="1" height="28" fill="#821723"/>
<rect x="423" y="482" width="3" height="10" fill="#821723"/>
<rect x="428" y="462" width="1" height="40" fill="#18631f"/>
<rect x="427" y="465" width="3" height="27" fill="#18631f"/>
<rect x="431" y="441" width="1" height="38" fill="#18631f"/>
<rect x="430" y="448" width="3" height="18" fill="#18631f"/>
<rect x="435" y="418" width="1" height="39" fill="#18631f"/>
<rect x="434" y="427" width="3" height="22" fill="#18631f"/>
<rect x="438" y="423" width="1" height="46" fill="#821723"/>
<rect x="437" y="428" width="3" height="32" fill="#821723"/>
<rect x="442" y="436" width="1" height="32" fill="#18631f"/>
<rect x="441" y="438" width="3" height="22" fill="#18631f"/>
<rect x="446" y="416" width="1" height="80" fill="#821723"/>
<rect x="445" y="437" width="3" height="57" fill="#821723"/>
<rect x="449" y="467" width="1" height="41" fill="#18631f"/>
<rect x="448" y="476" width="3" height="18" fill="#18631f"/>
<rect x="453" y="464" width="1" height="28" fill="#821723"/>
<rect x="452" y="476" width="3" height="2" fill="#821723"/>
<rect x="456" y="414" width="1" height="63" fill="#18631f"/>
<rect x="455" y="418" width="3" height="59" fill="#18631f"/>
<rect x="460" y="392" width="1" height="45" fill="#821723"/>
<rect x="459" y="419" width="3" height="15" fill="#821723"/>
<rect x="463" y="431" width="1" height="16" fill="#821723"/>
<rect x="462" y="433" width="3" height="13" fill="#821723"/>
<rect x="467" y="438" width="1" height="19" fill="#18631f"/>
<rect x="466" y="440" width="3" height="6" fill="#18631f"/>
<rect x="471" y="380" width="1" height="70" fill="#18631f"/>
<rect x="470" y="386" width="3" height="55" fill="#18631f"/>
<rect x="474" y="384" width="1" height="45" fill="#821723"/>
<rect x="473" y="386" width="3" height="17" fill="#821723"/>
<rect x="478" y="401" width="1" height="41" fill="#821723"/>
<rect x="477" y="402" width="3" height="36" fill="#821723"/>
<rect x="481" y="419" width="1" height="28" fill="#18631f"/>
<rect x="480" y="432" width="3" height="7" fill="#18631f"/>
<rect x="485" y="427" width="1" height="14" fill="#821723"/>
<rect x="484" y="432" width="3" height="8" fill="#821723"/>
<rect x="488" y="413" width="1" height="37" fill="#821723"/>
<rect x="487" y="439" width="3" height="11" fill="#821723"/>
<rect x="492" y="432" width="1" height="55" fill="#18631f"/>
<rect x="491" y="441" width="3" height="9" fill="#18631f"/>
<rect x="495" y="433" width="1" height="25" fill="#821723"/>
<rect x="494" y="440" width="3" height="17" fill="#821723"/>
<rect x="499" y="452" width="1" height="24" fill="#821723"/>
<rect x="498" y="456" width="3" height="11" fill="#821723"/>
<rect x="503" y="444" width="1" height="23" fill="#18631f"/>
<rect x="502" y="451" width="3" height="16" fill="#18631f"/>
<rect x="506" y="444" width="1" height="35" fill="#821723"/>
<rect x="505" y="451" width="3" height="23" fill="#821723"/>
<rect x="510" y="457" width="1" height="19" fill="#18631f"/>
<rect x="509" y="460" width="3" height="14" fill="#18631f"/>
<rect x="513" y="416" width="1" height="83" fill="#821723"/>
<rect x="512" y="460" width="3" height="14" fill="#821723"/>
<rect x="517" y="470" width="1" height="122" fill="#821723"/>
<rect x="516" y="473" width="3" height="108" fill="#821723"/>
<rect x="520" y="570" width="1" height="71" fill="#821723"/>
<rect x="519" y="580" width="3" height="16" fill="#821723"/>
<rect x="524" y="554" width="1" height="58" fill="#18631f"/>
<rect x="523" y="555" width="3" height="41" fill="#18631f"/>
<rect x="527" y="515" width="1" height="43" fill="#18631f"/>
<rect x="526" y="529" width="3" height="27" fill="#18631f"/>
<rect x="531" y="494" width="1" height="36" fill="#18631f"/>
<rect x="530" y="496" width="3" height="34" fill="#18631f"/>
<rect x="535" y="438" width="1" height="73" fill="#18631f"/>
<rect x="534" y="448" width="3" height="49" fill="#18631f"/>
<rect x="538" y="440" width="1" height="50" fill="#821723"/>
<rect x="537" y="448" width="3" height="37" fill="#821723"/>
<rect x="542" y="467" width="1" height="18" fill="#18631f"/>
<rect x="541" y="480" width="3" height="4" fill="#18631f"/>
<rect x="545" y="455" width="1" height="41" fill="#18631f"/>
<rect x="544" y="457" width="3" height="23" fill="#18631f"/>
<rect x="549" y="438" width="1" height="28" fill="#18631f"/>
<rect x="548" y="457" width="3" height="1" fill="#18631f"/>
<rect x="552" y="442" width="1" height="22" fill="#18631f"/>
<rect x="551" y="446" width="3" height="12" fill="#18631f"/>
<rect x="556" y="421" width="1" height="25" fill="#18631f"/>
<rect x="555" y="430" width="3" height="16" fill="#18631f"/>
<rect x="559" y="417" width="1" height="24" fill="#18631f"/>
<rect x="558" y="423" width="3" height="8" fill="#18631f"/>
<rect x="563" y="416" width="1" height="15" fill="#821723"/>
<rect x="562" y="423" width="3" height="8" fill="#821723"/>
<rect x="567" y="422" width="1" height="14" fill="#821723"/>
<rect x="566" y="430" width="3" height="4" fill="#821723"/>
<rect x="570" y="427" width="1" height="9" fill="#821723"/>
<rect x="569" y="433" width="3" height="3" fill="#821723"/>
<rect x="574" y="424" width="1" height="29" fill="#18631f"/>
<rect x="573" y="426" width="3" height="10" fill="#18631f"/>
<rect x="577" y="408" width="1" height="24" fill="#18631f"/>
<rect x="576" y="413" width="3" height="14" fill="#18631f"/>
<rect x="581" y="398" width="1" height="16" fill="#18631f"/>
<rect x="580" y="400" width="3" height="14" fill="#18631f"/>
<rect x="584" y="394" width="1" height="36" fill="#821723"/>
<rect x="583" y="400" width="3" height="24" fill="#821723"/>
<rect x="588" y="414" width="1" height="25" fill="#821723"/>
<rect x="587" y="423" width="3" height="4" fill="#821723"/>
<rect x="592" y="424" width="1" height="15" fill="#821723"/>
<rect x="591" y="427" width="3" height="3" fill="#821723"/>
<rect x="595" y="339" width="1" height="95" fill="#18631f"/>
<rect x="594" y="343" width="3" height="88" fill="#18631f"/>
<rect x="599" y="331" width="1" height="45" fill="#821723"/>
<rect x="598" y="340" width="3" height="6" fill="#821723"/>
<rect x="602" y="299" width="1" height="47" fill="#18631f"/>
<rect x="601" y="307" width="3" height="39" fill="#18631f"/>
<rect x="606" y="228" width="1" height="84" fill="#18631f"/>
<rect x="605" y="239" width="3" height="69" fill="#18631f"/>
<rect x="609" y="237" width="1" height="38" fill="#821723"/>
<rect x="608" y="239" width="3" height="30" fill="#821723"/>
<rect x="613" y="261" width="1" height="25" fill="#821723"/>
<rect x="612" y="268" width="3" height="15" fill="#821723"/>
<rect x="616" y="257" width="1" height="31" fill="#18631f"/>
<rect x="615" y="269" width="3" height="13" fill="#18631f"/>
<rect x="620" y="255" width="1" height="62" fill="#821723"/>
<rect x="619" y="269" width="3" height="23" fill="#821723"/>
<rect x="624" y="236" width="1" height="75" fill="#18631f"/>
<rect x="623" y="270" width="3" height="20" fill="#18631f"/>
<rect x="627" y="240" width="1" height="41" fill="#18631f"/>
<rect x="626" y="240" width="3" height="32" fill="#18631f"/>
<rect x="631" y="240" width="1" height="30" fill="#821723"/>
<rect x="630" y="240" width="3" height="23" fill="#821723"/>
<rect x="634" y="261" width="1" height="15" fill="#821723"/>
<rect x="633" y="263" width="3" height="12" fill="#821723"/>
<rect x="638" y="265" width="1" height="18" fill="#821723"/>
<rect x="637" y="274" width="3" height="9" fill="#821723"/>
<rect x="641" y="236" width="1" height="55" fill="#18631f"/>
<rect x="640" y="262" width="3" height="21" fill="#18631f"/>
<rect x="645" y="259" width="1" height="56" fill="#821723"/>
<rect x="644" y="262" width="3" height="41" fill="#821723"/>
<rect x="648" y="282" width="1" height="47" fill="#821723"/>
<rect x="647" y="302" width="3" height="5" fill="#821723"/>
<rect x="652" y="299" width="1" height="44" fill="#821723"/>
<rect x="651" y="306" width="3" height="32" fill="#821723"/>
<rect x="656" y="333" width="1" height="25" fill="#821723"/>
<rect x="655" y="337" width="3" height="12" fill="#821723"/>
<rect x="659" y="339" width="1" height="39" fill="#821723"/>
<rect x="658" y="349" width="3" height="29" fill="#821723"/>
<rect x="663" y="339" width="1" height="50" fill="#18631f"/>
<rect x="662" y="373" width="3" height="5" fill="#18631f"/>
<rect x="666" y="315" width="1" height="70" fill="#821723"/>
<rect x="665" y="373" width="3" height="8" fill="#821723"/>
<rect x="670" y="375" width="1" height="51" fill="#821723"/>
<rect x="669" y="380" width="3" height="46" fill="#821723"/>
<rect x="673" y="424" width="1" height="120" fill="#821723"/>
<rect x="672" y="425" width="3" height="56" fill="#821723"/>
<rect x="677" y="455" width="1" height="46" fill="#18631f"/>
<rect x="676" y="457" width="3" height="26" fill="#18631f"/>
<rect x="681" y="434" width="1" height="42" fill="#18631f"/>
<rect x="680" y="452" width="3" height="7" fill="#18631f"/>
<rect x="684" y="423" width="1" height="66" fill="#18631f"/>
<rect x="683" y="435" width="3" height="17" fill="#18631f"/>
<rect x="688" y="413" width="1" height="53" fill="#821723"/>
<rect x="687" y="435" width="3" height="15" fill="#821723"/>
<rect x="691" y="406" width="1" height="46" fill="#18631f"/>
<rect x="690" y="410" width="3" height="40" fill="#18631f"/>
<rect x="695" y="404" width="1" height="40" fill="#821723"/>
<rect x="694" y="410" width="3" height="34" fill="#821723"/>
<rect x="698" y="437" width="1" height="25" fill="#821723"/>
<rect x="697" y="443" width="3" height="8" fill="#821723"/>
<rect x="702" y="449" width="1" height="11" fill="#18631f"/>
<rect x="701" y="449" width="3" height="3" fill="#18631f"/>
<rect x="705" y="450" width="1" height="17" fill="#821723"/>
<rect x="704" y="450" width="3" height="11" fill="#821723"/>
<rect x="709" y="452" width="1" height="26" fill="#821723"/>
<rect x="708" y="461" width="3" height="8" fill="#821723"/>
<rect x="713" y="434" width="1" height="47" fill="#18631f"/>
<rect x="712" y="436" width="3" height="32" fill="#18631f"/>
<rect x="716" y="426" width="1" height="16" fill="#18631f"/>
<rect x="715" y="434" width="3" height="3" fill="#18631f"/>
<rect x="720" y="408" width="1" height="36" fill="#821723"/>
<rect x="719" y="433" width="3" height="4" fill="#821723"/>
<rect x="723" y="433" width="1" height="25" fill="#821723"/>
<rect x="722" y="435" width="3" height="22" fill="#821723"/>
<rect x="727" y="421" width="1" height="35" fill="#18631f"/>
<rect x="726" y="431" width="3" height="25" fill="#18631f"/>
<rect x="730" y="423" width="1" height="27" fill="#821723"/>
<rect x="729" y="431" width="3" height="12" fill="#821723"/>
<rect x="734" y="430" width="1" height="44" fill="#18631f"/>
<rect x="733" y="430" width="3" height="13" fill="#18631f"/>
<rect x="737" y="416" width="1" height="38" fill="#18631f"/>
<rect x="736" y="417" width="3" height="14" fill="#18631f"/>
<rect x="741" y="364" width="1" height="55" fill="#18631f"/>
<rect x="740" y="371" width="3" height="47" fill="#18631f"/>
<rect x="745" y="364" width="1" height="27" fill="#821723"/>
<rect x="744" y="370" width="3" height="9" fill="#821723"/>
<rect x="748" y="341" width="1" height="52" fill="#18631f"/>
<rect x="747" y="355" width="3" height="24" fill="#18631f"/>
<rect x="752" y="295" width="1" height="64" fill="#18631f"/>
<rect x="751" y="305" width="3" height="50" fill="#18631f"/>
<rect x="755" y="293" width="1" height="90" fill="#821723"/>
<rect x="754" y="305" width="3" height="77" fill="#821723"/>
<rect x="759" y="342" width="1" height="64" fill="#18631f"/>
<rect x="758" y="349" width="3" height="32" fill="#18631f"/>
<rect x="762" y="345" width="1" height="48" fill="#821723"/>
<rect x="761" y="349" width="3" height="34" fill="#821723"/>
<rect x="766" y="379" width="1" height="54" fill="#821723"/>
<rect x="765" y="382" width="3" height="47" fill="#821723"/>
<rect x="769" y="419" width="1" height="70" fill="#821723"/>
<rect x="768" y="428" width="3" height="58" fill="#821723"/>
<rect x="773" y="440" width="1" height="81" fill="#18631f"/>
<rect x="772" y="467" width="3" height="19" fill="#18631f"/>
<rect x="777" y="459" width="1" height="27" fill="#821723"/>
<rect x="776" y="467" width="3" height="6" fill="#821723"/>
<rect x="780" y="445" width="1" height="34" fill="#18631f"/>
<rect x="779" y="447" width="3" height="25" fill="#18631f"/>
<rect x="784" y="432" width="1" height="33" fill="#821723"/>
<rect x="783" y="447" width="3" height="10" fill="#821723"/>
<rect x="787" y="442" width="1" height="44" fill="#821723"/>
<rect x="786" y="455" width="3" height="7" fill="#821723"/>
<rect x="791" y="442" width="1" height="60" fill="#821723"/>
<rect x="790" y="461" width="3" height="1" fill="#821723"/>
<rect x="794" y="459" width="1" height="56" fill="#821723"/>
<rect x="793" y="461" width="3" height="43" fill="#821723"/>
<rect x="798" y="448" width="1" height="62" fill="#18631f"/>
<rect x="797" y="458" width="3" height="45" fill="#18631f"/>
<rect x="802" y="445" width="1" height="30" fill="#18631f"/>
<rect x="801" y="451" width="3" height="8" fill="#18631f"/>
<rect x="805" y="446" width="1" height="24" fill="#821723"/>
<rect x="804" y="450" width="3" height="20" fill="#821723"/>
<rect x="809" y="452" width="1" height="18" fill="#18631f"/>
<rect x="808" y="463" width="3" height="7" fill="#18631f"/>
<rect x="812" y="458" width="1" height="34" fill="#821723"/>
<rect x="811" y="463" width="3" height="29" fill="#821723"/>
<rect x="816" y="462" width="1" height="36" fill="#18631f"/>
<rect x="815" y="485" width="3" height="7" fill="#18631f"/>
<rect x="819" y="459" width="1" height="30" fill="#18631f"/>
<rect x="818" y="468" width="3" height="17" fill="#18631f"/>
<rect x="823" y="461" width="1" height="17" fill="#821723"/>
<rect x="822" y="468" width="3" height="4" fill="#821723"/>
<rect x="826" y="422" width="1" height="64" fill="#18631f"/>
<rect x="825" y="422" width="3" height="50" fill="#18631f"/>
<rect x="830" y="393" width="1" height="30" fill="#18631f"/>
<rect x="829" y="415" width="3" height="8" fill="#18631f"/>
<rect x="834" y="408" width="1" height="92" fill="#821723"/>
<rect x="833" y="414" width="3" height="73" fill="#821723"/>
<rect x="837" y="484" width="1" height="81" fill="#821723"/>
<rect x="836" y="487" width="3" height="35" fill="#821723"/>
<rect x="841" y="500" width="1" height="37" fill="#821723"/>
<rect x="840" y="523" width="3" height="1" fill="#821723"/>
<rect x="844" y="508" width="1" height="22" fill="#18631f"/>
<rect x="843" y="514" width="3" height="10" fill="#18631f"/>
<rect x="848" y="511" width="1" height="10" fill="#821723"/>
<rect x="847" y="515" width="3" height="2" fill="#821723"/>
<rect x="851" y="495" width="1" height="22" fill="#18631f"/>
<rect x="850" y="500" width="3" height="17" fill="#18631f"/>
<rect x="855" y="497" width="1" height="25" fill="#821723"/>
<rect x="854" y="500" width="3" height="13" fill="#821723"/>
<rect x="858" y="509" width="1" height="58" fill="#821723"/>
<rect x="857" y="512" width="3" height="55" fill="#821723"/>
<rect x="862" y="540" width="1" height="80" fill="#821723"/>
<rect x="861" y="564" width="3" height="9" fill="#821723"/>
<rect x="866" y="521" width="1" height="61" fill="#18631f"/>
<rect x="865" y="560" width="3" height="10" fill="#18631f"/>
<rect x="869" y="537" width="1" height="28" fill="#18631f"/>
<rect x="868" y="558" width="3" height="3" fill="#18631f"/>
<rect x="873" y="544" width="1" height="28" fill="#18631f"/>
<rect x="872" y="546" width="3" height="13" fill="#18631f"/>
<rect x="876" y="543" width="1" height="158" fill="#821723"/>
<rect x="875" y="546" width="3" height="155" fill="#821723"/>
<rect x="880" y="642" width="1" height="69" fill="#821723"/>
<rect x="879" y="701" width="3" height="1" fill="#821723"/>
<rect x="883" y="615" width="1" height="115" fill="#18631f"/>
<rect x="882" y="617" width="3" height="86" fill="#18631f"/>
<rect x="887" y="592" width="1" height="45" fill="#18631f"/>
<rect x="886" y="609" width="3" height="10" fill="#18631f"/>
<rect x="891" y="569" width="1" height="47" fill="#18631f"/>
<rect x="890" y="578" width="3" height="32" fill="#18631f"/>
<rect x="894" y="573" width="1" height="38" fill="#821723"/>
<rect x="893" y="578" width="3" height="28" fill="#821723"/>
<rect x="898" y="551" width="1" height="73" fill="#18631f"/>
<rect x="897" y="598" width="3" height="7" fill="#18631f"/>
<rect x="901" y="522" width="1" height="149" fill="#18631f"/>
<rect x="900" y="527" width="3" height="72" fill="#18631f"/>
<rect x="905" y="409" width="1" height="130" fill="#18631f"/>
<rect x="904" y="436" width="3" height="92" fill="#18631f"/>
<rect x="908" y="431" width="1" height="32" fill="#821723"/>
<rect x="907" y="438" width="3" height="17" fill="#821723"/>
<rect x="912" y="419" width="1" height="45" fill="#18631f"/>
<rect x="911" y="455" width="3" height="1" fill="#18631f"/>
<rect x="915" y="430" width="1" height="38" fill="#18631f"/>
<rect x="914" y="446" width="3" height="10" fill="#18631f"/>
<rect x="919" y="423" width="1" height="37" fill="#18631f"/>
<rect x="918" y="443" width="3" height="4" fill="#18631f"/>
<rect x="923" y="401" width="1" height="44" fill="#18631f"/>
<rect x="922" y="425" width="3" height="19" fill="#18631f"/>
<rect x="926" y="408" width="1" height="27" fill="#18631f"/>
<rect x="925" y="409" width="3" height="19" fill="#18631f"/>
<rect x="930" y="380" width="1" height="40" fill="#18631f"/>
<rect x="929" y="402" width="3" height="8" fill="#18631f"/>
<rect x="933" y="383" width="1" height="31" fill="#18631f"/>
<rect x="932" y="387" width="3" height="15" fill="#18631f"/>
<rect x="937" y="363" width="1" height="36" fill="#18631f"/>
<rect x="936" y="364" width="3" height="24" fill="#18631f"/>
<rect x="940" y="326" width="1" height="54" fill="#821723"/>
<rect x="939" y="364" width="3" height="6" fill="#821723"/>
<rect x="944" y="333" width="1" height="41" fill="#18631f"/>
<rect x="943" y="340" width="3" height="30" fill="#18631f"/>
<rect x="947" y="331" width="1" height="36" fill="#821723"/>
<rect x="946" y="340" width="3" height="18" fill="#821723"/>
<rect x="951" y="319" width="1" height="47" fill="#18631f"/>
<rect x="950" y="336" width="3" height="22" fill="#18631f"/>
<rect x="955" y="327" width="1" height="22" fill="#821723"/>
<rect x="954" y="336" width="3" height="4" fill="#821723"/>
<rect x="958" y="324" width="1" height="42" fill="#821723"/>
<rect x="957" y="339" width="3" height="20" fill="#821723"/>
<rect x="962" y="342" width="1" height="46" fill="#821723"/>
<rect x="961" y="358" width="3" height="3" fill="#821723"/>
<rect x="965" y="345" width="1" height="26" fill="#18631f"/>
<rect x="964" y="351" width="3" height="10" fill="#18631f"/>
<rect x="969" y="332" width="1" height="45" fill="#821723"/>
<rect x="968" y="351" width="3" height="24" fill="#821723"/>
<rect x="972" y="351" width="1" height="48" fill="#18631f"/>
<rect x="971" y="353" width="3" height="22" fill="#18631f"/>
<rect x="976" y="342" width="1" height="35" fill="#821723"/>
<rect x="975" y="353" width="3" height="24" fill="#821723"/>
<rect x="980" y="365" width="1" height="18" fill="#18631f"/>
<rect x="979" y="373" width="3" height="4" fill="#18631f"/>
<rect x="983" y="355" width="1" height="45" fill="#18631f"/>
<rect x="982" y="359" width="3" height="15" fill="#18631f"/>
<rect x="987" y="344" width="1" height="50" fill="#821723"/>
<rect x="986" y="359" width="3" height="21" fill="#821723"/>
<rect x="990" y="360" width="1" height="20" fill="#18631f"/>
<rect x="989" y="370" width="3" height="10" fill="#18631f"/>
<rect x="994" y="359" width="1" height="20" fill="#18631f"/>
<rect x="993" y="359" width="3" height="12" fill="#18631f"/>
<rect x="997" y="352" width="1" height="12" fill="#18631f"/>
<rect x="996" y="352" width="3" height="8" fill="#18631f"/>
<rect x="1001" y="352" width="1" height="9" fill="#821723"/>
<rect x="1000" y="352" width="3" height="6" fill="#821723"/>
<rect x="1004" y="350" width="1" height="17" fill="#18631f"/>
<rect x="1003" y="354" width="3" height="4" fill="#18631f"/>
<rect x="1008" y="351" width="1" height="12" fill="#821723"/>
<rect x="1007" y="353" width="3" height="10" fill="#821723"/>
<rect x="1012" y="357" width="1" height="8" fill="#18631f"/>
<rect x="1011" y="360" width="3" height="3" fill="#18631f"/>
<rect x="1015" y="352" width="1" height="12" fill="#821723"/>
<rect x="1014" y="359" width="3" height="5" fill="#821723"/>
<rect x="1019" y="356" width="1" height="8" fill="#18631f"/>
<rect x="1018" y="356" width="3" height="8" fill="#18631f"/>
<rect x="1022" y="313" width="1" height="44" fill="#18631f"/>
<rect x="1021" y="314" width="3" height="43" fill="#18631f"/>
<rect x="1026" y="311" width="1" height="34" fill="#821723"/>
<rect x="1025" y="313" width="3" height="30" fill="#821723"/>
<rect x="1029" y="341" width="1" height="18" fill="#821723"/>
<rect x="1028" y="341" width="3" height="16" fill="#821723"/>
<rect x="1033" y="314" width="1" height="47" fill="#18631f"/>
<rect x="1032" y="318" width="3" height="40" fill="#18631f"/>
<rect x="1036" y="301" width="1" height="21" fill="#18631f"/>
<rect x="1035" y="311" width="3" height="7" fill="#18631f"/>
<rect x="1040" y="310" width="1" height="42" fill="#821723"/>
<rect x="1039" y="310" width="3" height="39" fill="#821723"/>
<rect x="1044" y="334" width="1" height="22" fill="#18631f"/>
<rect x="1043" y="346" width="3" height="2" fill="#18631f"/>
<rect x="1047" y="338" width="1" height="46" fill="#821723"/>
<rect x="1046" y="346" width="3" height="3" fill="#821723"/>
<rect x="1051" y="340" width="1" height="27" fill="#18631f"/>
<rect x="1050" y="342" width="3" height="7" fill="#18631f"/>
<rect x="1054" y="342" width="1" height="33" fill="#821723"/>
<rect x="1053" y="342" width="3" height="26" fill="#821723"/>
<rect x="1058" y="351" width="1" height="19" fill="#18631f"/>
<rect x="1057" y="364" width="3" height="4" fill="#18631f"/>
<rect x="1061" y="364" width="1" height="23" fill="#821723"/>
<rect x="1060" y="364" width="3" height="3" fill="#821723"/>
<rect x="1065" y="365" width="1" height="35" fill="#821723"/>
<rect x="1064" y="366" width="3" height="24" fill="#821723"/>
<rect x="1068" y="365" width="1" height="63" fill="#821723"/>
<rect x="1067" y="389" width="3" height="27" fill="#821723"/>
<rect x="1072" y="401" width="1" height="38" fill="#821723"/>
<rect x="1071" y="416" width="3" height="23" fill="#821723"/>
<rect x="1076" y="410" width="1" height="34" fill="#18631f"/>
<rect x="1075" y="426" width="3" height="13" fill="#18631f"/>
<rect x="1079" y="405" width="1" height="45" fill="#18631f"/>
<rect x="1078" y="406" width="3" height="22" fill="#18631f"/>
<rect x="1083" y="365" width="1" height="43" fill="#18631f"/>
<rect x="1082" y="369" width="3" height="38" fill="#18631f"/>
<rect x="1086" y="338" width="1" height="32" fill="#18631f"/>
<rect x="1085" y="353" width="3" height="17" fill="#18631f"/>
<rect x="1090" y="301" width="1" height="63" fill="#18631f"/>
<rect x="1089" y="301" width="3" height="53" fill="#18631f"/>
<rect x="1093" y="260" width="1" height="42" fill="#18631f"/>
<rect x="1092" y="262" width="3" height="40" fill="#18631f"/>
<rect x="1097" y="262" width="1" height="39" fill="#821723"/>
<rect x="1096" y="262" width="3" height="35" fill="#821723"/>
<rect x="1101" y="286" width="1" height="23" fill="#821723"/>
<rect x="1100" y="295" width="3" height="11" fill="#821723"/>
<rect x="1104" y="269" width="1" height="39" fill="#18631f"/>
<rect x="1103" y="279" width="3" height="28" fill="#18631f"/>
<rect x="1108" y="240" width="1" height="40" fill="#18631f"/>
<rect x="1107" y="267" width="3" height="13" fill="#18631f"/>
<rect x="1111" y="229" width="1" height="72" fill="#821723"/>
<rect x="1110" y="267" width="3" height="19" fill="#821723"/>
<rect x="1115" y="253" width="1" height="36" fill="#18631f"/>
<rect x="1114" y="257" width="3" height="29" fill="#18631f"/>
<rect x="1118" y="250" width="1" height="19" fill="#821723"/>
<rect x="1117" y="257" width="3" height="10" fill="#821723"/>
<rect x="1122" y="260" width="1" height="26" fill="#821723"/>
<rect x="1121" y="266" width="3" height="15" fill="#821723"/>
<rect x="1125" y="277" width="1" height="26" fill="#821723"/>
<rect x="1124" y="281" width="3" height="22" fill="#821723"/>
<rect x="1129" y="286" width="1" height="23" fill="#18631f"/>
<rect x="1128" y="296" width="3" height="7" fill="#18631f"/>
<rect x="1133" y="292" width="1" height="59" fill="#821723"/>
<rect x="1132" y="296" width="3" height="54" fill="#821723"/>
<rect x="1136" y="335" width="1" height="27" fill="#821723"/>
<rect x="1135" y="346" width="3" height="9" fill="#821723"/>
<rect x="1140" y="321" width="1" height="34" fill="#18631f"/>
<rect x="1139" y="332" width="3" height="23" fill="#18631f"/>
<rect x="1143" y="322" width="1" height="19" fill="#18631f"/>
<rect x="1142" y="325" width="3" height="8" fill="#18631f"/>
<rect x="1147" y="316" width="1" height="15" fill="#18631f"/>
<rect x="1146" y="321" width="3" height="5" fill="#18631f"/>
<line x1="10" y1="101.5" x2="1624" y2="101.5" stroke="#3f4250" stroke-width="1"/>
<line x1="10" y1="786.5" x2="1624" y2="786.5" stroke="#3f4250" stroke-width="1"/>
<line x1="1550.5" y1="27" x2="1550.5" y2="818" stroke="#3f4250" stroke-width="1"/>
<line x1="10.5" y1="27" x2="10.5" y2="818" stroke="#6e717c" stroke-width="1"/>
<line x1="10" y1="27.5" x2="1624" y2="27.5" stroke="#9a9da8" stroke-width="1"/>
<text class="ax" x="1560.5" y="36.6" textLength="34" lengthAdjust="spacingAndGlyphs">80.00</text>
<text class="ax" x="1560.5" y="86.4" textLength="34" lengthAdjust="spacingAndGlyphs">40.00</text>
<text class="ax" x="1560.8" y="784.7" textLength="41" lengthAdjust="spacingAndGlyphs">97,000</text>
<text class="ax" x="1560.8" y="744.0" textLength="41" lengthAdjust="spacingAndGlyphs">98,000</text>
<text class="ax" x="1560.8" y="703.2" textLength="41" lengthAdjust="spacingAndGlyphs">99,000</text>
<text class="ax" x="1560.8" y="662.5" textLength="48" lengthAdjust="spacingAndGlyphs">100,000</text>
<text class="ax" x="1560.8" y="621.8" textLength="48" lengthAdjust="spacingAndGlyphs">101,000</text>
<text class="ax" x="1560.8" y="581.0" textLength="48" lengthAdjust="spacingAndGlyphs">102,000</text>
<text class="ax" x="1560.8" y="540.3" textLength="48" lengthAdjust="spacingAndGlyphs">103,000</text>
<text class="ax" x="1560.8" y="499.6" textLength="48" lengthAdjust="spacingAndGlyphs">104,000</text>
<text class="ax" x="1560.8" y="458.8" textLength="48" lengthAdjust="spacingAndGlyphs">105,000</text>
<text class="ax" x="1560.8" y="418.1" textLength="48" lengthAdjust="spacingAndGlyphs">106,000</text>
<text class="ax" x="1560.8" y="377.4" textLength="48" lengthAdjust="spacingAndGlyphs">107,000</text>
<text class="ax" x="1560.8" y="255.2" textLength="48" lengthAdjust="spacingAndGlyphs">110,000</text>
<text class="ax" x="1560.8" y="214.4" textLength="48" lengthAdjust="spacingAndGlyphs">111,000</text>
<text class="ax" x="1560.8" y="173.7" textLength="48" lengthAdjust="spacingAndGlyphs">112,000</text>
<rect x="1551" y="220" width="64" height="20.5" rx="1.5" fill="#000"/>
<text class="lb" x="1560.8" y="234.4" textLength="48" lengthAdjust="spacingAndGlyphs">110,545</text>
<line x1="1546" y1="230.5" x2="1551" y2="230.5" stroke="#111"/>
<rect x="1551" y="285.9" width="64" height="20.900000000000034" rx="1.5" fill="#8e1b28"/>
<text class="lb" x="1560.8" y="300.6" textLength="48" lengthAdjust="spacingAndGlyphs">108,924</text>
<rect x="1551" y="311.3" width="69" height="36.4" rx="2.5" fill="#434651"/>
<text class="lb" x="1560.8" y="326.3" textLength="48" lengthAdjust="spacingAndGlyphs" style="fill:#e6e8ee">108,299</text>
<text x="1559.8" y="342" font-size="13.2" font-weight="bold" fill="#c9ccd4" textLength="55" lengthAdjust="spacingAndGlyphs">01:10:30</text>
<rect x="1551" y="347.6" width="64" height="20.19999999999999" rx="1.5" fill="#000"/>
<text class="lb" x="1560.8" y="361.9" textLength="48" lengthAdjust="spacingAndGlyphs">107,773</text>
<rect x="1551" y="413.2" width="64" height="20.400000000000034" rx="1.5" fill="#000"/>
<text class="lb" x="1560.8" y="427.6" textLength="48" lengthAdjust="spacingAndGlyphs">105,797</text>
<rect x="1551" y="631.2" width="64" height="20.399999999999977" rx="1.5" fill="#000"/>
<text class="lb" x="1560.8" y="645.6" textLength="48" lengthAdjust="spacingAndGlyphs">100,426</text>
<line x1="1543" y1="641.5" x2="1548" y2="641.5" stroke="#111"/>
<rect x="1554" y="105.8" width="66" height="26" rx="4" fill="#121212" stroke="#2a2a2a" stroke-width="0.6"/>
<text x="1563" y="124.2" font-size="12.3" fill="#f0f0f0" stroke="#f0f0f0" stroke-width="0.3" textLength="21" lengthAdjust="spacingAndGlyphs">USD</text>
<text class="ax" x="54.5" y="805.5" text-anchor="middle">15</text>
<text class="ax" x="118.5" y="805.5" text-anchor="middle">18</text>
<text class="ax" x="182.5" y="805.5" text-anchor="middle">21</text>
<text class="ax" x="246.5" y="805.5" text-anchor="middle">24</text>
<text class="ax" x="310.5" y="805.5" text-anchor="middle">27</text>
<text class="ax" x="417.5" y="805.5" text-anchor="middle" font-weight="bold">Jun</text>
<text class="ax" x="481.5" y="805.5" text-anchor="middle">4</text>
<text class="ax" x="545.5" y="805.5" text-anchor="middle">7</text>
<text class="ax" x="609.5" y="805.5" text-anchor="middle">10</text>
<text class="ax" x="673.5" y="805.5" text-anchor="middle">13</text>
<text class="ax" x="737.5" y="805.5" text-anchor="middle">16</text>
<text class="ax" x="802.5" y="805.5" text-anchor="middle">19</text>
<text class="ax" x="866.5" y="805.5" text-anchor="middle">22</text>
<text class="ax" x="930.5" y="805.5" text-anchor="middle">25</text>
<text class="ax" x="994.5" y="805.5" text-anchor="middle">28</text>
<text class="ax" x="1058.5" y="805.5" text-anchor="middle" font-weight="bold">Jul</text>
<text class="ax" x="1122.5" y="805.5" text-anchor="middle">4</text>
<text class="ax" x="1186.5" y="805.5" text-anchor="middle">7</text>
<text class="ax" x="1250.5" y="805.5" text-anchor="middle">10</text>
<text class="ax" x="1314.5" y="805.5" text-anchor="middle">13</text>
<text class="ax" x="1378.5" y="805.5" text-anchor="middle">16</text>
<text class="ax" x="1442.5" y="805.5" text-anchor="middle">19</text>
<text class="ax" x="1506.5" y="805.5" text-anchor="middle">22</text>
<text x="18" y="120.7" font-size="12.3" fill="#5c5f6b" stroke="#5c5f6b" stroke-width="0.25" textLength="36.6" lengthAdjust="spacingAndGlyphs">Bitcoin</text>
<text x="59.6" y="120.7" font-size="12.3" fill="#5c5f6b" stroke="#5c5f6b" stroke-width="0.25" textLength="4.2" lengthAdjust="spacingAndGlyphs">/</text>
<text x="68.9" y="120.7" font-size="12.3" fill="#5c5f6b" stroke="#5c5f6b" stroke-width="0.25" textLength="57.3" lengthAdjust="spacingAndGlyphs">U.S. Dollar</text>
<text x="138.9" y="120.7" font-size="12.3" fill="#5c5f6b" stroke="#5c5f6b" stroke-width="0.25" textLength="11.8" lengthAdjust="spacingAndGlyphs">4h</text>
<text x="163.4" y="120.7" font-size="12.3" fill="#5c5f6b" stroke="#5c5f6b" stroke-width="0.25" textLength="49.3" lengthAdjust="spacingAndGlyphs">BITSTAMP</text>
<text x="132.6" y="120.7" font-size="12.3" fill="#5c5f6b" stroke="#5c5f6b" stroke-width="0.25" text-anchor="middle" style="font-weight:bold">·</text><text x="156.6" y="120.7" font-size="12.3" fill="#5c5f6b" stroke="#5c5f6b" stroke-width="0.25" text-anchor="middle" style="font-weight:bold">·</text>
<text x="221" y="120.7" font-size="12.3" fill="#5c5f6b" stroke="#5c5f6b" stroke-width="0.25">O</text>
<text x="230" y="120.7" font-size="12.3" fill="#27702c" stroke="#27702c" stroke-width="0.25" textLength="40.7" lengthAdjust="spacingAndGlyphs">108,195</text>
<text x="278.7" y="120.7" font-size="12.3" fill="#5c5f6b" stroke="#5c5f6b" stroke-width="0.25">H</text>
<text x="287.5" y="120.7" font-size="12.3" fill="#27702c" stroke="#27702c" stroke-width="0.25" textLength="40.5" lengthAdjust="spacingAndGlyphs">108,416</text>
<text x="336" y="120.7" font-size="12.3" fill="#5c5f6b" stroke="#5c5f6b" stroke-width="0.25">L</text>
<text x="343" y="120.7" font-size="12.3" fill="#27702c" stroke="#27702c" stroke-width="0.25" textLength="40.3" lengthAdjust="spacingAndGlyphs">108,065</text>
<text x="391.7" y="120.7" font-size="12.3" fill="#5c5f6b" stroke="#5c5f6b" stroke-width="0.25">C</text>
<text x="399.5" y="120.7" font-size="12.3" fill="#27702c" stroke="#27702c" stroke-width="0.25" textLength="40.5" lengthAdjust="spacingAndGlyphs">108,299</text>
<text x="447.7" y="120.7" font-size="12.3" fill="#27702c" stroke="#27702c" stroke-width="0.25" textLength="74" lengthAdjust="spacingAndGlyphs">+106 (+0.10%)</text>
<g><circle cx="1147.9" cy="773.2" r="11" fill="#fff"/><path d="M1137.0 771.1999999999999 Q1138.15 775.75 1142.7 776.9 Q1138.15 778.05 1137.0 782.6 Q1135.85 778.05 1131.3 776.9 Q1135.85 775.75 1137.0 771.1999999999999 Z" fill="#fff" stroke="#fff" stroke-width="2.6" stroke-linejoin="round"/><circle cx="1154.45" cy="766.4" r="3.8" fill="#fff"/><path d="M1138.77 770.58 A9.5 9.5 0 0 1 1150.36 764.02" fill="none" stroke="#9c27b0" stroke-width="1.15"/><path d="M1156.94 770.26 A9.5 9.5 0 0 1 1140.62 779.31" fill="none" stroke="#9c27b0" stroke-width="1.15"/><path d="M1149.95 768.3 L1143.6 773.6 L1147 773.7 L1144.1 778.8 L1151.5 773.1 L1148.1 773 Z" fill="#9c27b0"/><circle cx="1154.45" cy="766.4" r="2.55" fill="#f23645"/><path d="M1137.0 771.1999999999999 Q1138.15 775.75 1142.7 776.9 Q1138.15 778.05 1137.0 782.6 Q1135.85 778.05 1131.3 776.9 Q1135.85 775.75 1137.0 771.1999999999999 Z" fill="#6c47ff"/></g>
<g fill="#e2e2e4"><path d="M10 830.1 h7.8 v9.8 h-4.05 v-6.1 h-3.75 z"/><circle cx="21" cy="832" r="1.55"/><path d="M24.5 830.1 h5.1 l-4.1 9.8 h-4.35 z"/></g>
<text x="32.9" y="839.9" font-size="12.8" fill="#dcdcde" stroke="#dcdcde" stroke-width="0.35" textLength="70.8" lengthAdjust="spacingAndGlyphs">TradingView</text>
</svg></body></html>
